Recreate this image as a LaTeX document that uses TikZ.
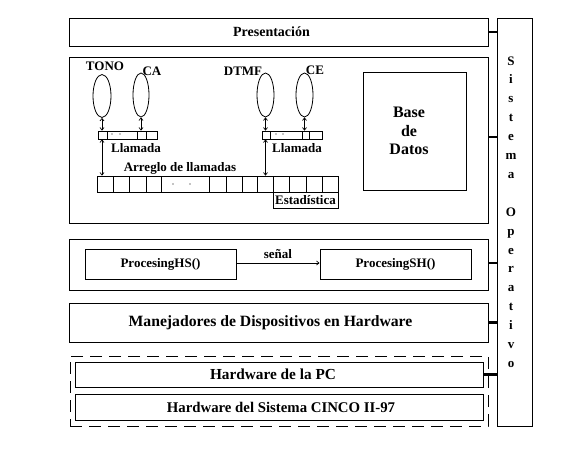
\documentclass[tikz,border=0pt]{standalone}
\usepackage{fontspec}
\setmainfont{Liberation Serif}
\usetikzlibrary{shapes.geometric,arrows.meta}
\begin{document}
\begin{tikzpicture}[x=1pt,y=-1pt,
  box/.style={draw,line width=0.9pt,inner sep=0pt,rectangle},
  small/.style={font=\fontsize{13}{15}\selectfont\bfseries,inner sep=0pt},
  oval/.style={draw,ellipse,line width=0.8pt,inner sep=0pt},
  conn/.style={line width=2.6pt},
  thin/.style={line width=0.8pt},
  arr/.style={line width=0.7pt,{Straight Barb[length=2.5pt,width=4pt]}-{Straight Barb[length=2.5pt,width=4pt]}},
  rarr/.style={line width=0.7pt,-{Straight Barb[length=2.5pt,width=4pt]}},
  dot/.style={fill,circle,inner sep=0pt,minimum size=1.3pt}]
\useasboundingbox (0,0) rectangle (576,452);
% outer layer boxes
\node[box,minimum width=419,minimum height=28] (pres) at (278.5,32) {};
\node[font=\fontsize{14}{17}\selectfont\bfseries,inner sep=0pt] (lpres) at (271.5,32) {Presentación};
\node[box,minimum width=35,minimum height=408] (so) at (514.5,222) {};
\node[font=\fontsize{13}{18.9}\selectfont\bfseries,align=center,inner sep=0pt] (sotext) at (511,212)
  {S\\i\\s\\t\\e\\m\\a\\[18.9pt]O\\p\\e\\r\\a\\t\\i\\v\\o};
\node[box,minimum width=419,minimum height=166] (app) at (278.5,140) {};
\node[box,minimum width=419,minimum height=51] (proc) at (278.5,264.5) {};
\node[box,minimum width=419,minimum height=39] (man) at (278.5,322.5) {};
\node[font=\fontsize{15.7}{18}\selectfont\bfseries,inner sep=0pt] (lman) at (270.5,322.5) {Manejadores de Dispositivos en Hardware};
\node[draw,line width=0.9pt,dash pattern=on 12pt off 7pt,inner sep=0pt,minimum width=418,minimum height=70] (hw) at (279,391) {};
\node[box,minimum width=408,minimum height=25] (hwpc) at (279,374.5) {};
\node[font=\fontsize{15.3}{18}\selectfont\bfseries,inner sep=0pt] (lhwpc) at (273,374.5) {Hardware de la PC};
\node[box,minimum width=408,minimum height=26] (hwci) at (279,407) {};
\node[font=\fontsize{14.8}{18}\selectfont\bfseries,inner sep=0pt] (lhwci) at (281,407) {Hardware del Sistema CINCO II-97};
% connectors to the operating system
\draw[conn] (pres.east) -- (pres.east -| so.west);
\draw[conn] ([yshift=3pt]app.east) -- ([yshift=3pt]app.east -| so.west);
\draw[conn] ([yshift=1.5pt]proc.east) -- ([yshift=1.5pt]proc.east -| so.west);
\draw[conn] (man.east) -- (man.east -| so.west);
\draw[conn] (hwpc.east) -- (hwpc.east -| so.west);
% processing
\node[box,small,minimum width=151,minimum height=30] (hs) at (160.5,264) {ProcesingHS()};
\node[box,small,minimum width=151,minimum height=30] (sh) at (395.5,264) {ProcesingSH()};
\draw[rarr] ([yshift=1pt]hs.east) -- node[small,above=4pt] (senal) {señal} ([yshift=1pt]sh.west);
% application contents
\node[oval,minimum width=18,minimum height=43] (tono) at (102,96) {};
\node[oval,minimum width=16,minimum height=44] (ca) at (141,95) {};
\node[oval,minimum width=17,minimum height=44] (dtmf) at (265.5,95) {};
\node[oval,minimum width=17,minimum height=44] (ce) at (304.5,95) {};
\node[small] (ltono) at (105,66) {TONO};
\node[small] (lca) at (152,71) {CA};
\node[small] (ldtmf) at (243,71) {DTMF};
\node[small] (lce) at (315,70) {CE};
% llamada boxes
\node[box,line width=0.8pt,minimum width=59,minimum height=8] (ll1) at (127.5,135) {};
\foreach \x in {107,137,146} \draw[thin] (\x,131) -- (\x,139);
\node[dot] (d1) at (112,134) {}; \node[dot] (d2) at (120,134) {};
\node[box,line width=0.8pt,minimum width=60,minimum height=8] (ll2) at (292,135) {};
\foreach \x in {270,302,309} \draw[thin] (\x,131) -- (\x,139);
\node[dot] (d3) at (276,134) {}; \node[dot] (d4) at (283,134) {};
\node[small] (lll1) at (136,148) {Llamada};
\node[small] (lll2) at (297,148) {Llamada};
% arreglo
\node[small] (larr) at (180,168) {Arreglo de llamadas};
\node[box,line width=0.8pt,minimum width=241,minimum height=16] (arr) at (217.5,184) {};
\foreach \x in {113,129,146,161,209,226,242,257,273,289,306,322} \draw[thin] (\x,176) -- (\x,192);
\node[dot] (d5) at (173,184) {}; \node[dot] (d6) at (190,184) {};
\node[box,line width=0.8pt,small,minimum width=65,minimum height=16] (est) at (305.5,200) {Estadística};
% arrows
\draw[arr] (tono.south) -- (tono.south |- ll1.north);
\draw[arr] (ca.south) -- (ca.south |- ll1.north);
\draw[arr] (dtmf.south) -- (dtmf.south |- ll2.north);
\draw[arr] (ce.south) -- (ce.south |- ll2.north);
\draw[arr] (ll1.south -| tono.south) -- (arr.north -| tono.south);
\draw[arr] (ll2.south -| dtmf.south) -- (arr.north -| dtmf.south);
% base de datos
\node[box,minimum width=103,minimum height=118] (bd) at (414.5,131) {};
\node[font=\fontsize{16}{18.5}\selectfont\bfseries,align=center,inner sep=0pt] (bdtext) at (409,131) {Base\\de\\Datos};
\end{tikzpicture}
\end{document}
